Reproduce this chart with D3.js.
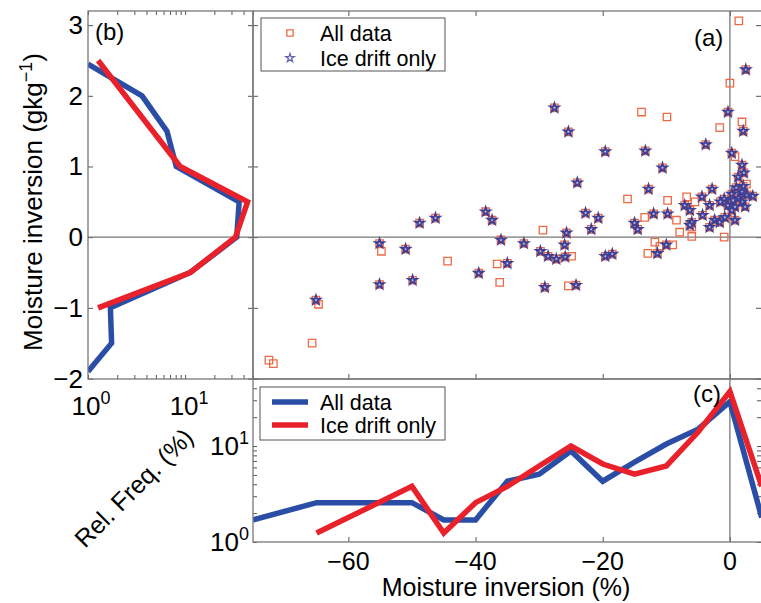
<!DOCTYPE html>
<html>
<head>
<meta charset="utf-8">
<script src="https://cdn.jsdelivr.net/npm/d3@7"></script>
<style>
  body { margin: 0; background: #fff; }
  svg { display: block; font-family: "Liberation Sans", Arial, Helvetica, sans-serif; }
</style>
</head>
<body>
<svg id="chart"></svg>
<script>
// panel (a): moisture inversion (%) vs moisture inversion (g/kg)
const iceDrift = [
  [-65.1, -0.89], [-55.1, -0.09], [-51.0, -0.17], [-55.1, -0.67], [-49.9, -0.61],
  [-48.8, 0.20], [-46.3, 0.27], [-27.6, 1.83], [-25.4, 1.49], [-19.6, 1.21],
  [-24.0, 0.77], [-38.4, 0.36], [-37.4, 0.24], [-22.7, 0.34], [-20.7, 0.27],
  [-21.8, 0.11], [-25.7, 0.06], [-36.0, -0.04], [-32.4, -0.09], [-26.0, -0.11],
  [-29.8, -0.20], [-28.6, -0.27], [-27.3, -0.31], [-25.9, -0.28], [-19.6, -0.27],
  [-18.5, -0.24], [-35.0, -0.37], [-39.5, -0.51], [-29.1, -0.71], [-24.2, -0.68],
  [-13.3, 1.22], [-0.3, 1.77], [2.1, 1.50], [2.5, 2.37], [-3.8, 1.31],
  [-12.8, 0.68], [-10.6, 0.98], [0.3, 1.19], [1.9, 1.02], [2.2, 0.91],
  [1.3, 0.85], [2.1, 0.72], [-2.8, 0.68], [-4.4, 0.57], [-0.9, 0.54],
  [0.3, 0.61], [1.9, 0.64], [2.7, 0.60], [3.6, 0.58], [-0.3, 0.45],
  [0.8, 0.43], [1.9, 0.50], [2.4, 0.43], [1.3, 0.55], [0.3, 0.38],
  [-7.1, 0.45], [-6.3, 0.38], [-3.2, 0.45], [-12.0, 0.33], [-9.8, 0.33],
  [-4.3, 0.31], [-6.0, 0.21], [-2.4, 0.24], [-1.6, 0.21], [-0.8, 0.28],
  [0.8, 0.24], [-15.0, 0.20], [-14.5, 0.11], [-3.2, 0.14], [-6.3, 0.17],
  [-10.0, -0.11], [-11.4, -0.23], [-1.5, 0.50], [1.0, 0.70], [0.5, 0.52]
];
// points in "All data" that are not ice drift
const otherData = [
  [-72.5, -1.74], [-71.8, -1.79], [-65.7, -1.50], [-64.7, -0.95], [-54.8, -0.20],
  [-44.4, -0.34], [-29.4, 0.10], [-24.9, -0.27], [-36.6, -0.38], [-36.2, -0.64],
  [-25.4, -0.69], [-13.9, 1.77], [-9.9, 1.70], [-1.6, 1.55], [1.9, 1.63],
  [1.4, 3.06], [0.0, 2.18], [0.8, 1.14], [-16.1, 0.54], [-9.8, 0.52],
  [-6.8, 0.57], [-13.4, 0.28], [-8.4, 0.24], [-7.9, 0.07], [-6.0, 0.01],
  [-6.0, 0.14], [-0.9, 0.00], [-11.8, -0.07], [-9.0, -0.11], [-11.0, -0.13],
  [-12.9, -0.23], [-5.5, 0.50], [2.6, 0.75]
];

// panel (b): rel. freq. (%) by moisture inversion bin (g/kg)
const bAllY = [2.45, 2.0, 1.5, 1.0, 0.5, 0.0, -0.5, -1.0, -1.5, -1.9];
const bAllF = [1.0, 3.6, 6.5, 8.1, 36, 34, 11.3, 1.7, 1.75, 1.0];
const bIceY = [2.5, 1.0, 0.5, 0.0, -0.5, -1.0];
const bIceF = [1.27, 8.9, 44, 33, 11.3, 1.27];

// panel (c): rel. freq. (%) by moisture inversion bin (%)
const cAllX = [-75, -65, -50, -45, -40, -35, -30, -25, -20, -15, -10, -5, 0, 5];
const cAllF = [1.7, 2.57, 2.57, 1.7, 1.7, 4.3, 5.1, 8.9, 4.3, 6.8, 10.5, 15, 29, 1.8];
const cIceX = [-65, -50, -45, -40, -35, -30, -25, -20, -15, -10, -5, 0, 5];
const cIceF = [1.24, 3.8, 1.24, 2.57, 3.8, 6.2, 10, 6.5, 5.1, 6.2, 14, 37, 3.8];

const xTicks = [-60, -40, -20, 0];
const yTicks = [-2, -1, 0, 1, 2, 3];

const width = 761, height = 603;
const blue = "#2a4ea6", red = "#e8212b";
const sqColor = "#ee6a45", starColor = "#3f3f95";
const frameColor = "#777";

const svg = d3.select("#chart").attr("width", width).attr("height", height);

const xA = d3.scaleLinear().domain([-75, 5]).range([253, 761.7]);
const yA = d3.scaleLinear().domain([-2, 3.2]).range([378.5, 11]);
const xB = d3.scaleLog().domain([1, 50]).range([88, 253]);
const yC = d3.scaleLog().domain([1, 50]).range([542, 379]);

const defs = svg.append("defs");
defs.append("clipPath").attr("id", "clipA").append("rect")
  .attr("x", 253).attr("y", 11).attr("width", 509).attr("height", 368);
defs.append("clipPath").attr("id", "clipB").append("rect")
  .attr("x", 88).attr("y", 11).attr("width", 165).attr("height", 368);
defs.append("clipPath").attr("id", "clipC").append("rect")
  .attr("x", 253).attr("y", 379).attr("width", 509).attr("height", 163);

function styleAxis(g) {
  g.select(".domain").remove();
  g.selectAll("line").attr("stroke", "#555").attr("stroke-width", 1);
  g.selectAll("text").remove();
}

// ticks, all pointing inwards
svg.append("g").attr("transform", "translate(0,379)")
  .call(d3.axisBottom(xA).tickValues(xTicks).tickSize(-5)).call(styleAxis);
svg.append("g").attr("transform", "translate(0,11)")
  .call(d3.axisTop(xA).tickValues(xTicks).tickSize(-5)).call(styleAxis);
svg.append("g").attr("transform", "translate(253,0)")
  .call(d3.axisLeft(yA).tickValues(yTicks).tickSize(-5)).call(styleAxis);
svg.append("g").attr("transform", "translate(253,0)")
  .call(d3.axisLeft(yA).tickValues(yTicks).tickSize(5)).call(styleAxis);
svg.append("g").attr("transform", "translate(761,0)")
  .call(d3.axisRight(yA).tickValues(yTicks).tickSize(-5)).call(styleAxis);
svg.append("g").attr("transform", "translate(88,0)")
  .call(d3.axisLeft(yA).tickValues(yTicks).tickSize(-5)).call(styleAxis);

const logTicks = xB.ticks();
svg.append("g").attr("transform", "translate(0,379)")
  .call(d3.axisBottom(xB).tickValues(logTicks).tickSize(-4)).call(styleAxis);
svg.append("g").attr("transform", "translate(0,11)")
  .call(d3.axisTop(xB).tickValues(logTicks).tickSize(-4)).call(styleAxis);

svg.append("g").attr("transform", "translate(0,542)")
  .call(d3.axisBottom(xA).tickValues(xTicks).tickSize(-5)).call(styleAxis);
svg.append("g").attr("transform", "translate(253,0)")
  .call(d3.axisLeft(yC).tickValues(yC.ticks()).tickSize(-4)).call(styleAxis);
svg.append("g").attr("transform", "translate(761,0)")
  .call(d3.axisRight(yC).tickValues(yC.ticks()).tickSize(-4)).call(styleAxis);

// zero lines
svg.append("line").attr("x1", 88).attr("x2", 762).attr("y1", yA(0)).attr("y2", yA(0))
  .attr("stroke", frameColor).attr("stroke-width", 1.3);
svg.append("line").attr("x1", xA(0)).attr("x2", xA(0)).attr("y1", 11).attr("y2", 542)
  .attr("stroke", frameColor).attr("stroke-width", 1.3);

// scatter (a)
const gA = svg.append("g").attr("clip-path", "url(#clipA)");
const allPts = otherData.concat(iceDrift);
gA.selectAll("path.sq").data(allPts).enter().append("path")
  .attr("class", "sq")
  .attr("d", d3.symbol(d3.symbolSquare, 55)())
  .attr("transform", d => `translate(${xA(d[0])},${yA(d[1])})`)
  .attr("fill", "none").attr("stroke", sqColor).attr("stroke-width", 1.3);
gA.selectAll("path.st").data(iceDrift).enter().append("path")
  .attr("class", "st")
  .attr("d", d3.symbol(d3.symbolStar, 24)())
  .attr("transform", d => `translate(${xA(d[0])},${yA(d[1])})`)
  .attr("fill", "#c9c6e6").attr("stroke", starColor).attr("stroke-width", 1.8);

// profiles (b)
const gB = svg.append("g").attr("clip-path", "url(#clipB)");
const lineB = d3.line().x(d => xB(d[1])).y(d => yA(d[0]));
gB.append("path").datum(d3.zip(bAllY, bAllF)).attr("d", lineB)
  .attr("fill", "none").attr("stroke", blue).attr("stroke-width", 5.5);
gB.append("path").datum(d3.zip(bIceY, bIceF)).attr("d", lineB)
  .attr("fill", "none").attr("stroke", red).attr("stroke-width", 5.5);

// histogram lines (c)
const gC = svg.append("g").attr("clip-path", "url(#clipC)");
const lineC = d3.line().x(d => xA(d[0])).y(d => yC(d[1]));
gC.append("path").datum(d3.zip(cAllX, cAllF)).attr("d", lineC)
  .attr("fill", "none").attr("stroke", blue).attr("stroke-width", 5.5);
gC.append("path").datum(d3.zip(cIceX, cIceF)).attr("d", lineC)
  .attr("fill", "none").attr("stroke", red).attr("stroke-width", 5.5);

// frames
[[88, 11, 165, 368], [253, 11, 509, 368], [253, 379, 509, 163]].forEach(r => {
  svg.append("rect").attr("x", r[0]).attr("y", r[1]).attr("width", r[2]).attr("height", r[3])
    .attr("fill", "none").attr("stroke", frameColor).attr("stroke-width", 1.3);
});

// tick labels
const fs = 26;
svg.selectAll("text.yl").data(yTicks).enter().append("text")
  .attr("x", 83).attr("y", d => yA(d) + 9)
  .attr("text-anchor", "end").attr("font-size", fs)
  .text(d => d < 0 ? "\u2212" + Math.abs(d) : d);

svg.selectAll("text.xl").data(xTicks).enter().append("text")
  .attr("x", d => xA(d)).attr("y", 570)
  .attr("text-anchor", "middle").attr("font-size", 25)
  .text(d => d < 0 ? "\u2212" + Math.abs(d) : d);

function powerLabel(x, y, exp, anchor) {
  const t = svg.append("text").attr("x", x).attr("y", y)
    .attr("text-anchor", anchor).attr("font-size", fs);
  t.append("tspan").text("10");
  t.append("tspan").attr("dy", -11).attr("font-size", 18).text(exp);
}
powerLabel(xB(1) + 3, 415, "0", "middle");
powerLabel(xB(10) + 4, 415, "1", "middle");
powerLabel(249, yC(1) + 9, "0", "end");
powerLabel(249, yC(10) + 9, "1", "end");

// panel letters
svg.append("text").attr("x", 95).attr("y", 40).attr("font-size", 24).text("(b)");
svg.append("text").attr("x", 694).attr("y", 46).attr("font-size", 24).text("(a)");
svg.append("text").attr("x", 693).attr("y", 402).attr("font-size", 24).text("(c)");

// axis titles
const yt = svg.append("text")
  .attr("transform", "translate(42,202) rotate(-90)")
  .attr("text-anchor", "middle").attr("font-size", fs);
yt.append("tspan").text("Moisture inversion (gkg");
yt.append("tspan").attr("dy", -10).attr("font-size", 18).text("\u22121");
yt.append("tspan").attr("dy", 10).text(")");

svg.append("text").attr("x", 506).attr("y", 596)
  .attr("text-anchor", "middle").attr("font-size", 25).text("Moisture inversion (%)");

svg.append("text")
  .attr("transform", "translate(140,494) rotate(-45)")
  .attr("text-anchor", "middle").attr("font-size", 25).text("Rel. Freq. (%)");

// legend (a)
const legA = svg.append("g");
legA.append("rect").attr("x", 261).attr("y", 18).attr("width", 184).attr("height", 53)
  .attr("fill", "#fff").attr("stroke", "#555").attr("stroke-width", 1);
legA.append("path").attr("d", d3.symbol(d3.symbolSquare, 40)())
  .attr("transform", "translate(290,33)")
  .attr("fill", "none").attr("stroke", sqColor).attr("stroke-width", 1.3);
legA.append("path").attr("d", d3.symbol(d3.symbolStar, 22)())
  .attr("transform", "translate(290,58)")
  .attr("fill", "none").attr("stroke", "#6666b0").attr("stroke-width", 1.3);
legA.append("text").attr("x", 320).attr("y", 41).attr("font-size", 21.5).text("All data");
legA.append("text").attr("x", 320).attr("y", 66).attr("font-size", 21.5).text("Ice drift only");

// legend (c)
const legC = svg.append("g");
legC.append("rect").attr("x", 260).attr("y", 387).attr("width", 185).attr("height", 53)
  .attr("fill", "#fff").attr("stroke", "#555").attr("stroke-width", 1);
legC.append("line").attr("x1", 272).attr("x2", 308).attr("y1", 402).attr("y2", 402)
  .attr("stroke", blue).attr("stroke-width", 5.5);
legC.append("line").attr("x1", 272).attr("x2", 308).attr("y1", 425).attr("y2", 425)
  .attr("stroke", red).attr("stroke-width", 5.5);
legC.append("text").attr("x", 320).attr("y", 410).attr("font-size", 21.5).text("All data");
legC.append("text").attr("x", 320).attr("y", 433).attr("font-size", 21.5).text("Ice drift only");
</script>
</body>
</html>
